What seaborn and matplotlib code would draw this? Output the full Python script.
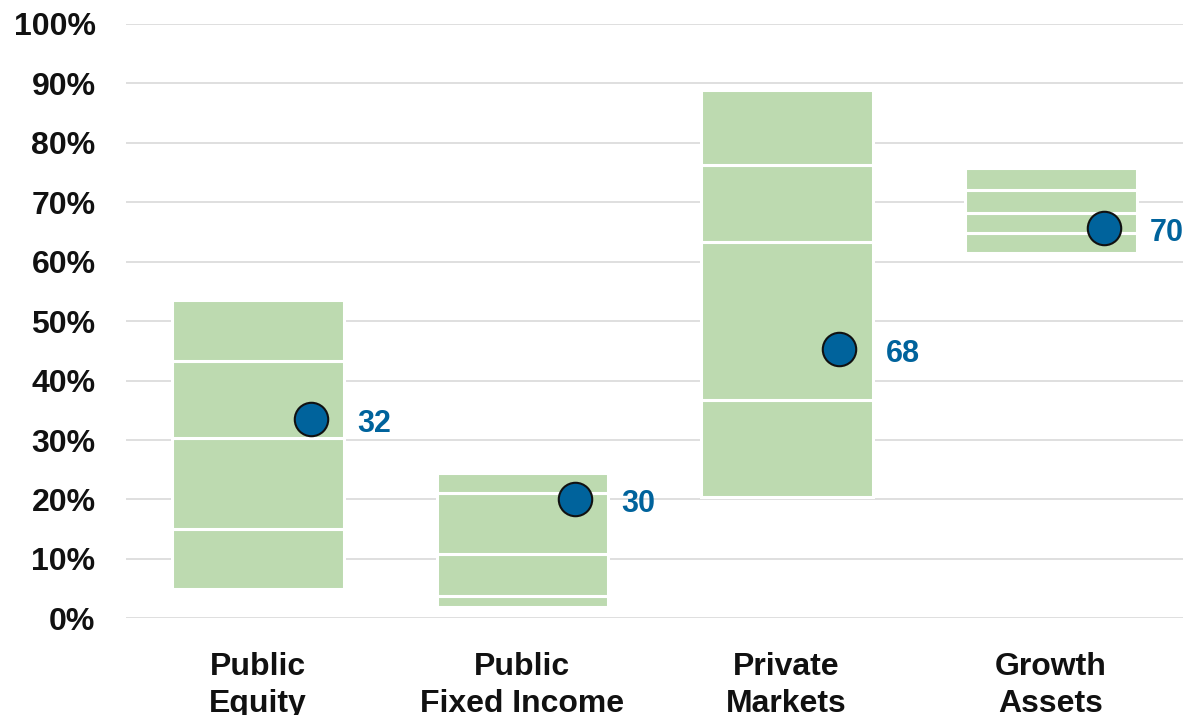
import numpy as np
import pandas as pd
import seaborn as sns
import matplotlib.pyplot as plt

# categories and percentile boundaries (5th, 25th, 50th, 75th, 95th), in %
categories = ["Public\nEquity", "Public\nFixed Income", "Private\nMarkets", "Growth\nAssets"]
p05 = [4.9, 1.9, 20.5, 61.5]
p25 = [15.0, 3.7, 36.7, 64.8]
p50 = [30.3, 10.8, 63.3, 68.2]
p75 = [43.2, 21.1, 76.2, 72.0]
p95 = [53.5, 24.5, 88.8, 75.7]

# portfolio value and its rank
portfolio = [33.5, 20.1, 45.3, 65.6]
ranks = ["32", "30", "68", "70"]

green = "#bddab0"
blue = "#00639c"

sns.set_theme(style="white")
plt.rcParams['font.family'] = ['Liberation Sans', 'DejaVu Sans']

fig, ax = plt.subplots(figsize=(12.01, 7.15), dpi=100)
fig.subplots_adjust(left=0.105, right=0.985, top=0.967, bottom=0.135)

ax.yaxis.grid(True, color="#d9d9d9", linewidth=1.2)
ax.set_axisbelow(True)

bounds = [p05, p25, p50, p75, p95]
for lo, hi in zip(bounds[:-1], bounds[1:]):
    seg = pd.DataFrame({"cat": categories,
                        "h": np.array(hi) - np.array(lo)})
    sns.barplot(data=seg, x="cat", y="h", bottom=lo, color=green,
                width=0.65, edgecolor="white", linewidth=2.2,
                saturation=1, ax=ax)

xs = np.arange(len(categories))
sns.scatterplot(x=xs + 0.2, y=portfolio, s=580, color=blue,
                edgecolor="#111111", linewidth=1.5, zorder=5, ax=ax)
for x, y, r in zip(xs, portfolio, ranks):
    ax.text(x + 0.375, y - 0.8, r, color=blue, fontsize=22,
            fontweight="bold", ha="left", va="center")

ax.set_xlim(-0.5, 3.5)
ax.set_ylim(0, 100)
ax.set_yticks(range(0, 101, 10))
ax.set_yticklabels([f"{v}%" for v in range(0, 101, 10)])
ax.set_xlabel("")
ax.set_ylabel("")
ax.tick_params(axis="y", length=0, pad=22, labelsize=23, labelcolor="#111111")
ax.tick_params(axis="x", length=0, pad=24, labelsize=23, labelcolor="#111111")
for lab in ax.get_xticklabels() + ax.get_yticklabels():
    lab.set_fontweight("bold")
for lab in ax.get_xticklabels():
    lab.set_linespacing(1.32)
sns.despine(left=True, bottom=True)

fig.savefig("out.png", dpi=100)
